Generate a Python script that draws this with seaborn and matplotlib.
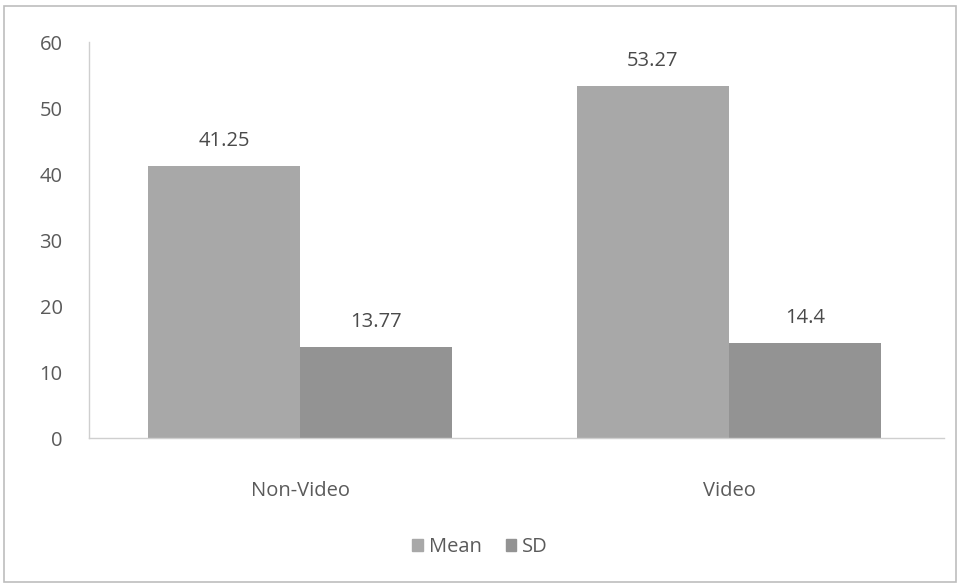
import matplotlib
matplotlib.use("Agg")
import matplotlib.pyplot as plt
import seaborn as sns
import pandas as pd
from matplotlib.patches import Rectangle

categories = ["Non-Video", "Video"]
series = ["Mean", "SD"]
mean_values = [41.25, 53.27]
sd_values = [13.77, 14.4]
label_texts = {"Mean": ["41.25", "53.27"], "SD": ["13.77", "14.4"]}

df = pd.DataFrame({
    "group": categories * 2,
    "stat": ["Mean"] * len(categories) + ["SD"] * len(categories),
    "value": mean_values + sd_values,
})

sns.set_theme(style="white")
plt.rcParams["font.family"] = ["Open Sans", "DejaVu Sans"]

fig = plt.figure(figsize=(9.6, 5.84), dpi=100)
ax = fig.add_axes([0.0927, 0.25, 0.891, 0.678])

palette = {"Mean": "#a8a8a8", "SD": "#939393"}
sns.barplot(data=df, x="group", y="value", hue="stat", order=categories,
            hue_order=series, palette=palette, width=0.71, saturation=1,
            edgecolor="none", ax=ax, legend=False)

ax.set_xlim(-0.492, 1.502)
ax.set_ylim(0, 60)
ax.set_yticks(range(0, 61, 10))
ax.set_xlabel("")
ax.set_ylabel("")
for s in ["top", "right"]:
    ax.spines[s].set_visible(False)
for s in ["left", "bottom"]:
    ax.spines[s].set_color("#cfcfcf")
    ax.spines[s].set_linewidth(1)
fs = 14.5
ax.tick_params(axis="y", labelsize=fs, colors="#5a5a5a", length=4, color="#cfcfcf", pad=15)
ax.tick_params(axis="x", labelsize=fs, colors="#5a5a5a", length=0, pad=31)
for lbl in ax.get_yticklabels():
    lbl.set_horizontalalignment("right")

for cont, name in zip(ax.containers, series):
    ax.bar_label(cont, labels=label_texts[name], padding=11, fontsize=fs, color="#4a4a4a")

handles = [Rectangle((0, 0), 1, 1, color=palette[s]) for s in series]
fig.legend(handles, series, loc="center", bbox_to_anchor=(0.5, 0.063), ncol=2,
           frameon=False, fontsize=fs, handlelength=0.5, handleheight=0.5,
           handletextpad=0.3, columnspacing=1.2, labelcolor="#5a5a5a")

border = Rectangle((0.004, 0.004), 0.992, 0.985, transform=fig.transFigure,
                   fill=False, edgecolor="#bdbdbd", linewidth=1.2)
fig.patches.append(border)

fig.savefig("out.png", dpi=100)
